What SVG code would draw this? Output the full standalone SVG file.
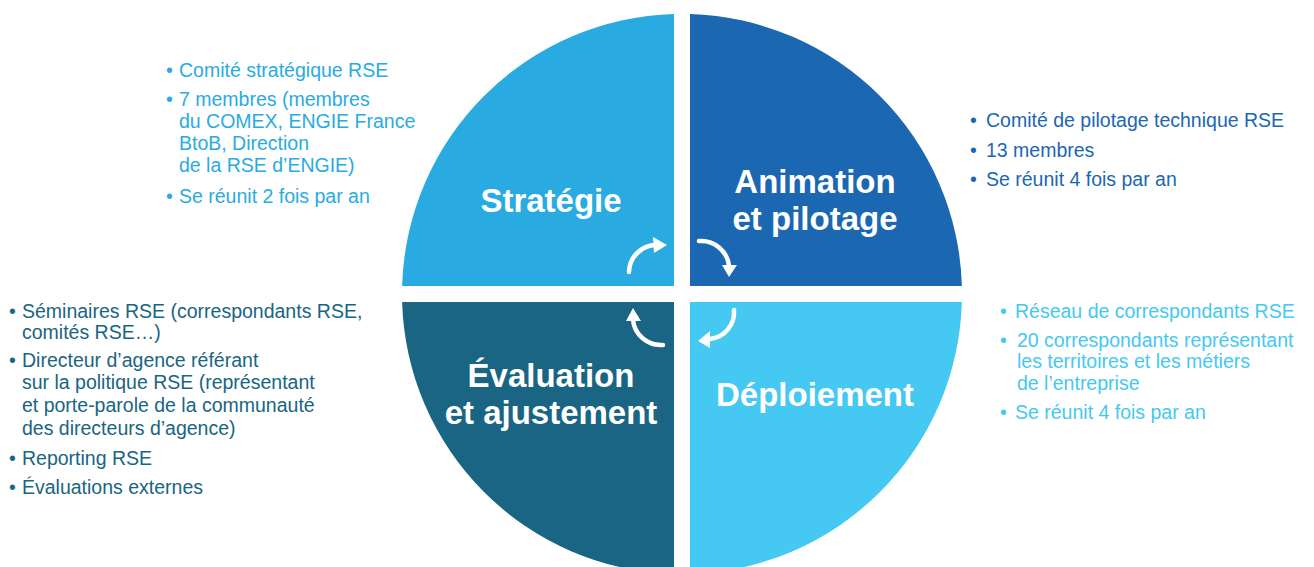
<svg xmlns="http://www.w3.org/2000/svg" width="1314" height="567" viewBox="0 0 1314 567">
<style>
.t{font-family:"Liberation Sans",Arial,sans-serif;font-size:19.5px}
.h{font-family:"Liberation Sans",Arial,sans-serif;font-size:33px;font-weight:bold;fill:#fff;text-anchor:middle}
.c1{fill:#29ABE2}.c2{fill:#1B67B1}.c3{fill:#196583}.c4{fill:#45C8F2}
.arr{fill:none;stroke:#fff;stroke-width:4.5;stroke-linecap:round}
.ah{fill:#fff}
</style>
<rect width="1314" height="567" fill="#fff"/>
<g id="strategie">
<path class="c1" d="M674,286 L674,14.11 A280,280 0 0 0 402.11,286 Z"/>
<text class="h" x="551" y="212">Stratégie</text>
</g>
<g id="animation">
<path class="c2" d="M690,286 L690,14.11 A280,280 0 0 1 961.89,286 Z"/>
<text class="h" x="815" y="193">Animation</text>
<text class="h" x="815" y="230">et pilotage</text>
</g>
<g id="deploiement">
<path class="c4" d="M690,302 L961.89,302 A280,280 0 0 1 690,573.89 Z"/>
<text class="h" x="815" y="406">Déploiement</text>
</g>
<g id="evaluation">
<path class="c3" d="M674,302 L674,573.89 A280,280 0 0 1 402.11,302 Z"/>
<text class="h" x="551" y="387">Évaluation</text>
<text class="h" x="551" y="424">et ajustement</text>
</g>
<g id="connectors">
<path class="arr" d="M629,272 A27.5,27.5 0 0 1 656,245"/>
<polygon class="ah" points="653,237 667,245 654,253"/>
<path class="arr" d="M699,241 A28,28 0 0 1 729,266"/>
<polygon class="ah" points="722,265 737,265 729,277"/>
<path class="arr" d="M734,310 A27,27 0 0 1 710,339"/>
<polygon class="ah" points="710,331 698,341 710,348"/>
<path class="arr" d="M663,345 A28,28 0 0 1 633,320"/>
<polygon class="ah" points="626,321 633,308 641,321"/>
</g>
<g id="text-strategie" class="t c1">
<text x="166" y="77">•</text><text x="179" y="77">Comité stratégique RSE</text>
<text x="166" y="106">•</text><text x="179" y="106">7 membres (membres</text>
<text x="179" y="128">du COMEX, ENGIE France</text>
<text x="179" y="150">BtoB, Direction</text>
<text x="179" y="172">de la RSE d’ENGIE)</text>
<text x="166" y="203">•</text><text x="179" y="203">Se réunit 2 fois par an</text>
</g>
<g id="text-animation" class="t c2">
<text x="970" y="127">•</text><text x="986" y="127">Comité de pilotage technique RSE</text>
<text x="970" y="157">•</text><text x="986" y="157">13 membres</text>
<text x="970" y="186">•</text><text x="986" y="186">Se réunit 4 fois par an</text>
</g>
<g id="text-deploiement" class="t c4">
<text x="1000" y="318">•</text><text x="1015" y="318">Réseau de correspondants RSE</text>
<text x="1000" y="347">•</text><text x="1017" y="347">20 correspondants représentant</text>
<text x="1017" y="368">les territoires et les métiers</text>
<text x="1017" y="390">de l’entreprise</text>
<text x="1000" y="419">•</text><text x="1015" y="419">Se réunit 4 fois par an</text>
</g>
<g id="text-evaluation" class="t c3">
<text x="9" y="318">•</text><text x="22" y="318">Séminaires RSE (correspondants RSE,</text>
<text x="22" y="339">comités RSE…)</text>
<text x="9" y="367">•</text><text x="22" y="367">Directeur d’agence référant</text>
<text x="22" y="389">sur la politique RSE (représentant</text>
<text x="22" y="412">et porte-parole de la communauté</text>
<text x="22" y="435">des directeurs d’agence)</text>
<text x="9" y="465">•</text><text x="22" y="465">Reporting RSE</text>
<text x="9" y="494">•</text><text x="22" y="494">Évaluations externes</text>
</g>
</svg>
